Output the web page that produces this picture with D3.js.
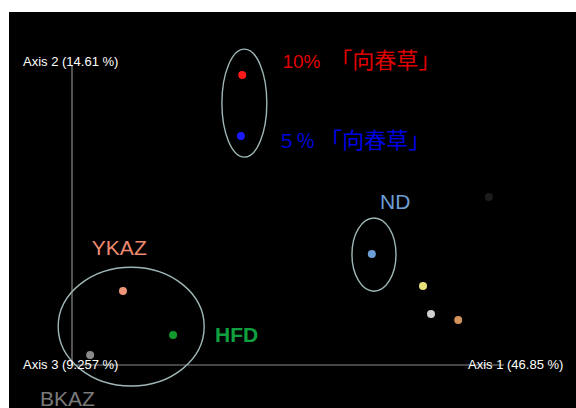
<!DOCTYPE html>
<html>
<head>
<meta charset="utf-8">
<script src="https://cdn.jsdelivr.net/npm/d3@7"></script>
<style>
  body { margin: 0; background: #fff; }
  svg { display: block; }
  text { white-space: pre; }
</style>
</head>
<body>
<script>
// PCoA scores (axis 1, axis 2), scaled units
var sampleNames = ["10pct", "5pct", "ND", "s4", "s5", "s6", "s7", "YKAZ", "HFD", "BKAZ"];
var axis1Values = [0.394, 0.391, 0.694, 0.8125, 0.831, 0.894, 0.965, 0.118, 0.234, 0.042];
var axis2Values = [0.967, 0.763, 0.370, 0.263, 0.170, 0.150, 0.560, 0.247, 0.100, 0.033];
var sampleColors = ["#ff1a1a", "#1a1aff", "#6c9fd6", "#e6df7c", "#cfcfcf", "#d2935c", "#1c1c1c", "#ef9479", "#129a2c", "#8a8a8a"];

// group ellipses: center x, center y, radius x, radius y
var ellipseCx = [0.399, 0.699, 0.137];
var ellipseCy = [0.873, 0.368, 0.128];
var ellipseRx = [0.052, 0.051, 0.169];
var ellipseRy = [0.180, 0.122, 0.198];

var axisLabels = ["Axis 1 (46.85 %)", "Axis 2 (14.61 %)", "Axis 3 (9.257 %)"];

// group labels (first part latin, second part CJK)
var groupTexts = ["10%", "５％", "ND", "YKAZ", "HFD", "BKAZ"];
var groupTextsCjk = ["  「向春草」", " 「向春草」", "", "", "", ""];
var groupX = [0.487, 0.475, 0.713, 0.046, 0.331, -0.074];
var groupY = [0.99, 0.723, 0.52, 0.367, 0.077, -0.137];
var groupColors = ["#e00000", "#0000e6", "#6c9fd6", "#ee8a70", "#10a040", "#7a7a7a"];

var width = 576, height = 408;

var svg = d3.select("body").append("svg")
    .attr("width", width)
    .attr("height", height);

svg.append("rect")
    .attr("x", 9).attr("y", 12)
    .attr("width", width - 9).attr("height", height - 12)
    .attr("fill", "#000");

var x = d3.scaleLinear().domain([0, 1]).range([72, 504]);
var y = d3.scaleLinear().domain([0, 1]).range([365, 65]);

// axes
svg.append("line")
    .attr("x1", x(0)).attr("x2", x(0))
    .attr("y1", y(1)).attr("y2", y(0))
    .attr("stroke", "#8a8a8a").attr("stroke-width", 1.2);
svg.append("line")
    .attr("x1", x(0)).attr("x2", x(1))
    .attr("y1", y(0)).attr("y2", y(0))
    .attr("stroke", "#8a8a8a").attr("stroke-width", 1.2);

// ellipses
svg.selectAll(".ell")
    .data(ellipseCx)
    .enter().append("ellipse")
    .attr("class", "ell")
    .attr("cx", function (d) { return x(d); })
    .attr("cy", function (d, i) { return y(ellipseCy[i]); })
    .attr("rx", function (d, i) { return x(ellipseRx[i]) - x(0); })
    .attr("ry", function (d, i) { return y(0) - y(ellipseRy[i]); })
    .attr("fill", "none")
    .attr("stroke", "#9fb6b6")
    .attr("stroke-width", 1.4);

// points
svg.selectAll(".pt")
    .data(sampleNames)
    .enter().append("circle")
    .attr("class", "pt")
    .attr("cx", function (d, i) { return x(axis1Values[i]); })
    .attr("cy", function (d, i) { return y(axis2Values[i]); })
    .attr("r", 4)
    .attr("fill", function (d, i) { return sampleColors[i]; });

// axis labels
var axisLabelFont = "'Liberation Sans', Arial, sans-serif";
var axisLabelX = [468, 23, 23];
var axisLabelY = [369, 66, 369];
svg.selectAll(".axlab")
    .data(axisLabels)
    .enter().append("text")
    .attr("class", "axlab")
    .attr("x", function (d, i) { return axisLabelX[i]; })
    .attr("y", function (d, i) { return axisLabelY[i]; })
    .attr("fill", "#fff")
    .attr("font-size", 13)
    .attr("font-family", axisLabelFont)
    .text(function (d) { return d; });

// group labels
var grp = svg.selectAll(".grp")
    .data(groupTexts)
    .enter().append("text")
    .attr("class", "grp")
    .attr("x", function (d, i) { return x(groupX[i]); })
    .attr("y", function (d, i) { return y(groupY[i]); })
    .attr("fill", function (d, i) { return groupColors[i]; })
    .attr("font-size", function (d, i) { return i < 2 ? 19 : 21; })
    .attr("font-weight", function (d) { return d === "HFD" ? "bold" : "normal"; })
    .attr("font-family", "'Liberation Sans', Arial, 'Noto Sans CJK JP', sans-serif");

grp.append("tspan").text(function (d) { return d; });
grp.append("tspan")
    .attr("font-size", 22)
    .attr("font-family", "'Noto Sans CJK JP', sans-serif")
    .text(function (d, i) { return groupTextsCjk[i]; });
</script>
</body>
</html>
